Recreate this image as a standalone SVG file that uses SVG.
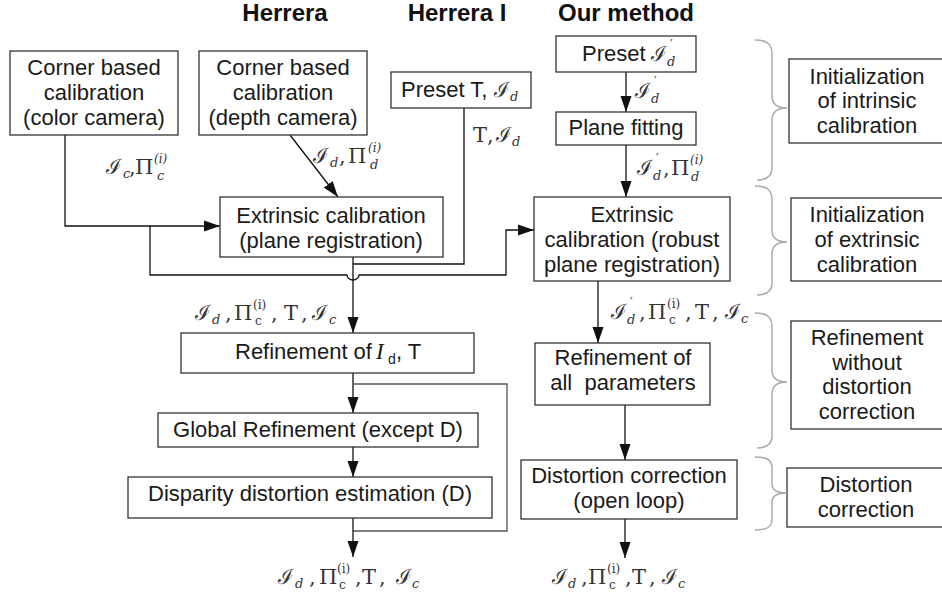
<svg xmlns="http://www.w3.org/2000/svg" width="942" height="598" viewBox="0 0 942 598">
  <defs>
    <marker id="arr" markerUnits="userSpaceOnUse" markerWidth="17" markerHeight="12" refX="16" refY="6" orient="auto">
      <path d="M0,0.5 L16,6 L0,11.5 z" fill="#111"/>
    </marker>
    <style>
      .box { fill: #fff; stroke: #333; stroke-width: 1.3; }
      .t { font-family: "Liberation Sans", Arial, sans-serif; font-size: 22px; fill: #1a1a1a; text-anchor: middle; }
      .tl { font-family: "Liberation Sans", Arial, sans-serif; font-size: 22px; fill: #1a1a1a; }
      .ts { font-family: "Liberation Sans", Arial, sans-serif; font-size: 14px; fill: #1a1a1a; }
      .ti { font-family: "Liberation Serif", serif; font-style: italic; font-size: 23px; fill: #1a1a1a; }
      .h { font-family: "Liberation Sans", Arial, sans-serif; font-size: 24px; font-weight: bold; fill: #111; text-anchor: middle; }
      .m { font-family: "DejaVu Serif", "Liberation Serif", serif; font-size: 21px; fill: #333; }
      .sb { font-size: 13px; font-style: italic; }
      .su { font-size: 12px; }
      .it { font-style: italic; }
      .w { stroke: #111; stroke-width: 1.3; fill: none; }
      .lp { stroke: #555; stroke-width: 1.3; fill: none; }
      .br { stroke: #aaa; stroke-width: 1.5; fill: none; }
    </style>
  </defs>

  <!-- column headings -->
  <text class="h" x="285" y="21">Herrera</text>
  <text class="h" x="457" y="21">Herrera I</text>
  <text class="h" x="626" y="21">Our method</text>

  <!-- connectors -->
  <g id="connectors">
    <path class="w" d="M65,135 V226 H220" marker-end="url(#arr)"/>
    <path class="w" d="M290,135 L338,197" marker-end="url(#arr)"/>
    <path class="w" d="M464,108 V264 H353"/>
    <path class="w" d="M353,257 V333" marker-end="url(#arr)"/>
    <path class="w" d="M150,226 V275 H347 A6,5 0 0 0 359,275 H506 V230 H534" marker-end="url(#arr)"/>
    <path class="w" d="M353,373 V413" marker-end="url(#arr)"/>
    <path class="lp" d="M353,384 H507 V531 H353"/>
    <path class="w" d="M353,447 V477" marker-end="url(#arr)"/>
    <path class="w" d="M353,518 V557" marker-end="url(#arr)"/>
    <path class="w" d="M626,72 V112" marker-end="url(#arr)"/>
    <path class="w" d="M626,145 V197" marker-end="url(#arr)"/>
    <path class="w" d="M598,281 V343" marker-end="url(#arr)"/>
    <path class="w" d="M625,405 V460" marker-end="url(#arr)"/>
    <path class="w" d="M625,519 V558" marker-end="url(#arr)"/>
  </g>

  <!-- Herrera column -->
  <g id="corner-color">
    <rect class="box" x="10" y="51" width="168" height="84"/>
    <text class="t" x="94" y="75">Corner based</text>
    <text class="t" x="94" y="100">calibration</text>
    <text class="t" x="94" y="125">(color camera)</text>
  </g>
  <g id="corner-depth">
    <rect class="box" x="199" y="51" width="168" height="84"/>
    <text class="t" x="283" y="75">Corner based</text>
    <text class="t" x="283" y="100">calibration</text>
    <text class="t" x="283" y="125">(depth camera)</text>
  </g>
  <g id="preset-t">
    <rect class="box" x="391" y="72" width="140" height="36"/>
    <text class="tl" x="401" y="97">Preset T,</text>
    <text class="m" x="494" y="97">ℐ<tspan class="sb" x="510" y="101">d</tspan></text>
  </g>
  <g id="extrinsic-plane">
    <rect class="box" x="220" y="197" width="223" height="60"/>
    <text class="t" x="331" y="223">Extrinsic calibration</text>
    <text class="t" x="331" y="248">(plane registration)</text>
  </g>
  <g id="refine-id-t">
    <rect class="box" x="181" y="333" width="293" height="40"/>
    <text class="tl" x="235" y="359">Refinement of</text>
    <text class="ti" x="376" y="359">I</text>
    <text class="ts" x="388" y="364">d</text>
    <text class="tl" x="396" y="359">, T</text>
  </g>
  <g id="global-refine">
    <rect class="box" x="158" y="413" width="320" height="34"/>
    <text class="t" x="318" y="437">Global Refinement (except D)</text>
  </g>
  <g id="disparity">
    <rect class="box" x="128" y="477" width="364" height="41"/>
    <text class="t" x="310" y="501">Disparity distortion estimation (D)</text>
  </g>

  <!-- proposed method column -->
  <g id="preset-id">
    <rect class="box" x="556" y="36" width="140" height="36"/>
    <text class="tl" x="582" y="61">Preset</text>
    <text class="m" x="651" y="61">ℐ<tspan class="su" x="670" y="49">′</tspan><tspan class="sb" x="667" y="66">d</tspan></text>
  </g>
  <g id="plane-fitting">
    <rect class="box" x="556" y="112" width="140" height="33"/>
    <text class="t" x="626" y="135">Plane fitting</text>
  </g>
  <g id="extrinsic-robust">
    <rect class="box" x="534" y="197" width="196" height="84"/>
    <text class="t" x="632" y="222">Extrinsic</text>
    <text class="t" x="632" y="247">calibration (robust</text>
    <text class="t" x="632" y="272">plane registration)</text>
  </g>
  <g id="refine-all">
    <rect class="box" x="535" y="343" width="175" height="62"/>
    <text class="t" x="623" y="365">Refinement of</text>
    <text class="t" x="623" y="390" xml:space="preserve">all  parameters</text>
  </g>
  <g id="distortion-open">
    <rect class="box" x="521" y="460" width="216" height="59"/>
    <text class="t" x="629" y="483">Distortion correction</text>
    <text class="t" x="629" y="508">(open loop)</text>
  </g>

  <!-- stage boxes -->
  <g id="stage-intrinsic">
    <rect class="box" x="789" y="59" width="160" height="84"/>
    <text class="t" x="867" y="84">Initialization</text>
    <text class="t" x="867" y="108">of intrinsic</text>
    <text class="t" x="867" y="133">calibration</text>
  </g>
  <g id="stage-extrinsic">
    <rect class="box" x="791" y="198" width="160" height="83"/>
    <text class="t" x="867" y="222">Initialization</text>
    <text class="t" x="867" y="247">of extrinsic</text>
    <text class="t" x="867" y="272">calibration</text>
  </g>
  <g id="stage-refine">
    <rect class="box" x="791" y="321" width="160" height="108"/>
    <text class="t" x="867" y="345">Refinement</text>
    <text class="t" x="867" y="370">without</text>
    <text class="t" x="867" y="394">distortion</text>
    <text class="t" x="867" y="419">correction</text>
  </g>
  <g id="stage-distortion">
    <rect class="box" x="787" y="468" width="160" height="59"/>
    <text class="t" x="866" y="492">Distortion</text>
    <text class="t" x="866" y="517">correction</text>
  </g>

  <!-- braces -->
  <g id="braces">
    <path class="br" d="M755,40 C767,40 772,44 772,54 L772,96 C772,104 777,108 787,108 C777,108 772,112 772,120 L772,168 C772,176 767,180 757,180"/>
    <path class="br" d="M755,186 C767,186 772,190 772,200 L772,230 C772,238 777,242 787,242 C777,242 772,246 772,254 L772,283 C772,291 767,295 757,295"/>
    <path class="br" d="M755,313 C767,313 772,317 772,327 L772,370 C772,378 777,382 787,382 C777,382 772,386 772,394 L772,436 C772,444 767,448 757,448"/>
    <path class="br" d="M755,457 C767,457 772,460 772,468 L772,484 C772,490 777,493 787,493 C777,493 772,496 772,502 L772,520 C772,527 767,530 755,530"/>
  </g>

  <!-- data labels -->
  <g id="labels">
    <text class="m" x="106" y="174">ℐ<tspan class="sb" x="123" y="178">c</tspan><tspan x="129" y="174">,</tspan><tspan x="135" y="174">Π</tspan><tspan class="su it" x="154" y="163">(i)</tspan><tspan class="sb" x="157" y="180">c</tspan></text>
    <text class="m" x="313" y="163">ℐ<tspan class="sb" x="330" y="167">d</tspan><tspan x="339" y="163">,</tspan><tspan x="348" y="163">Π</tspan><tspan class="su it" x="368" y="152">(i)</tspan><tspan class="sb" x="370" y="169">d</tspan></text>
    <text class="m" x="473" y="142">T<tspan x="487" y="142">,</tspan><tspan x="496" y="142">ℐ</tspan><tspan class="sb" x="512" y="146">d</tspan></text>
    <text class="m" x="635" y="98">ℐ<tspan class="su" x="654" y="86">′</tspan><tspan class="sb" x="651" y="103">d</tspan></text>
    <text class="m" x="637" y="175">ℐ<tspan class="su" x="656" y="163">′</tspan><tspan class="sb" x="653" y="180">d</tspan><tspan x="663" y="175">,</tspan><tspan x="671" y="175">Π</tspan><tspan class="su it" x="690" y="164">(i)</tspan><tspan class="sb" x="691" y="181">d</tspan></text>
    <text class="m" x="195" y="320">ℐ<tspan class="sb" x="212" y="324">d</tspan><tspan x="225" y="320">,</tspan><tspan x="234" y="320">Π</tspan><tspan class="su" x="253" y="309">(i)</tspan><tspan class="su" x="255" y="325">c</tspan><tspan x="271" y="320">,</tspan><tspan x="284" y="320">T</tspan><tspan x="301" y="320">,</tspan><tspan x="312" y="320">ℐ</tspan><tspan class="sb" x="329" y="324">c</tspan></text>
    <text class="m" x="611" y="319">ℐ<tspan class="su" x="630" y="307">′</tspan><tspan class="sb" x="627" y="324">d</tspan><tspan x="639" y="319">,</tspan><tspan x="648" y="319">Π</tspan><tspan class="su" x="667" y="308">(i)</tspan><tspan class="su" x="669" y="324">c</tspan><tspan x="685" y="319">,</tspan><tspan x="695" y="319">T</tspan><tspan x="712" y="319">,</tspan><tspan x="725" y="319">ℐ</tspan><tspan class="sb" x="741" y="323">c</tspan></text>
    <text class="m" x="278" y="584">ℐ<tspan class="sb" x="295" y="588">d</tspan><tspan x="309" y="584">,</tspan><tspan x="319" y="584">Π</tspan><tspan class="su" x="337" y="573">(i)</tspan><tspan class="su" x="339" y="589">c</tspan><tspan x="355" y="584">,</tspan><tspan x="362" y="584">T</tspan><tspan x="379" y="584">,</tspan><tspan x="396" y="584">ℐ</tspan><tspan class="sb" x="412" y="588">c</tspan></text>
    <text class="m" x="552" y="584">ℐ<tspan class="sb" x="568" y="588">d</tspan><tspan x="581" y="584">,</tspan><tspan x="588" y="584">Π</tspan><tspan class="su" x="607" y="573">(i)</tspan><tspan class="su" x="609" y="589">c</tspan><tspan x="625" y="584">,</tspan><tspan x="632" y="584">T</tspan><tspan x="649" y="584">,</tspan><tspan x="662" y="584">ℐ</tspan><tspan class="sb" x="678" y="588">c</tspan></text>
  </g>
</svg>
